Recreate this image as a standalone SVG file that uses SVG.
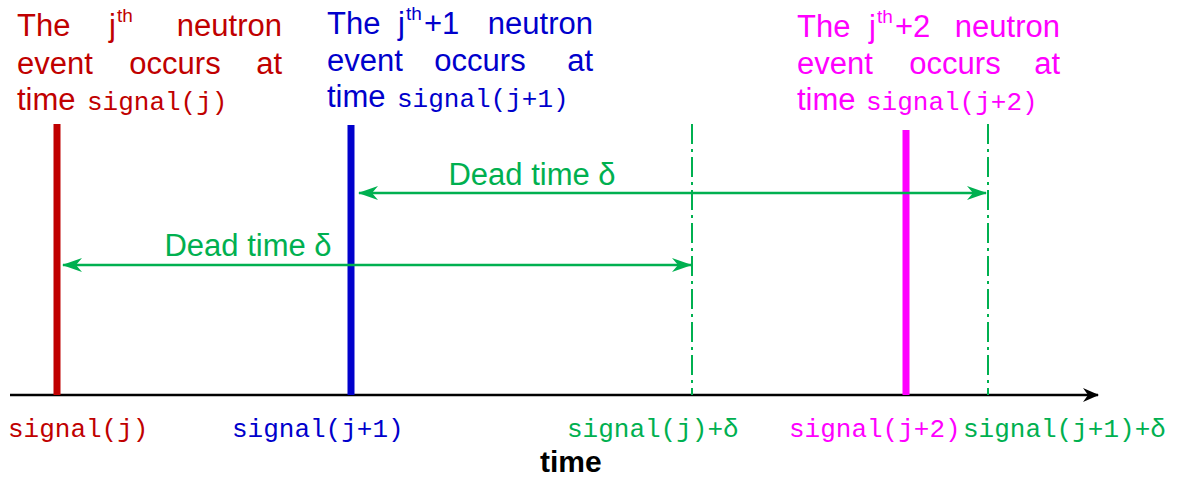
<svg xmlns="http://www.w3.org/2000/svg" width="1177" height="478" viewBox="0 0 1177 478">
<defs>
<style>
.t{font-family:"Liberation Sans",Arial,sans-serif;font-size:31px}
.sup{font-family:"Liberation Sans",Arial,sans-serif;font-size:19px}
.m{font-family:"Liberation Mono","Courier New",monospace;font-size:26px}
.red{fill:#C00000}.blue{fill:#0000CC}.mag{fill:#FF00FF}.grn{fill:#00B050}
.dd{stroke:#00B050;stroke-width:2;stroke-dasharray:20 5 3 5;fill:none}
.arr{stroke:#00B050;stroke-width:2.5;fill:none}
</style>
<marker id="ga" viewBox="0 0 20 14" refX="19" refY="7" markerWidth="20" markerHeight="14" markerUnits="userSpaceOnUse" orient="auto-start-reverse">
<path d="M0,0 L20,7 L0,14 L6,7 Z" fill="#00B050"/>
</marker>
<marker id="ka" viewBox="0 0 16 14" refX="15" refY="7" markerWidth="16" markerHeight="14" markerUnits="userSpaceOnUse" orient="auto">
<path d="M0,0 L16,7 L0,14 L5,7 Z" fill="#000"/>
</marker>
</defs>
<rect width="1177" height="478" fill="#fff"/>
<g id="axis">
<line x1="10" y1="395" x2="1098" y2="395" stroke="#000" stroke-width="2.5" marker-end="url(#ka)"/>
<text x="540" y="472" font-family="Liberation Sans,Arial,sans-serif" font-size="30" font-weight="bold" fill="#000">time</text>
</g>
<g id="event-j">
<line x1="57" y1="124" x2="57" y2="395" stroke="#C00000" stroke-width="7"/>
<text class="t red" x="17" y="36">The</text>
<text class="t red" x="109" y="36">j</text>
<text class="sup red" x="117" y="22">th</text>
<text class="t red" x="282" y="36" text-anchor="end">neutron</text>
<text class="t red" x="17" y="74">event</text>
<text class="t red" x="175" y="74" text-anchor="middle">occurs</text>
<text class="t red" x="282" y="74" text-anchor="end">at</text>
<text class="t red" x="17" y="110">time</text>
<text class="m red" x="87" y="110">signal(j)</text>
<text class="m red" x="8" y="437">signal(j)</text>
</g>
<g id="event-j1">
<line x1="351" y1="125" x2="351" y2="395" stroke="#0000CC" stroke-width="7"/>
<text class="t blue" x="327" y="34">The</text>
<text class="t blue" x="398" y="34">j</text>
<text class="sup blue" x="406" y="20">th</text>
<text class="t blue" x="424" y="34">+1</text>
<text class="t blue" x="593" y="34" text-anchor="end">neutron</text>
<text class="t blue" x="327" y="71">event</text>
<text class="t blue" x="480" y="71" text-anchor="middle">occurs</text>
<text class="t blue" x="593" y="71" text-anchor="end">at</text>
<text class="t blue" x="327" y="107">time</text>
<text class="m blue" x="397" y="107">signal(j+1)</text>
<text class="m blue" x="232" y="437">signal(j+1)</text>
</g>
<g id="event-j2">
<line x1="906" y1="130" x2="906" y2="395" stroke="#FF00FF" stroke-width="7"/>
<text class="t mag" x="797" y="37">The</text>
<text class="t mag" x="869" y="37">j</text>
<text class="sup mag" x="877" y="23">th</text>
<text class="t mag" x="895" y="37">+2</text>
<text class="t mag" x="1060" y="37" text-anchor="end">neutron</text>
<text class="t mag" x="797" y="74">event</text>
<text class="t mag" x="955" y="74" text-anchor="middle">occurs</text>
<text class="t mag" x="1060" y="74" text-anchor="end">at</text>
<text class="t mag" x="797" y="110">time</text>
<text class="m mag" x="866" y="110">signal(j+2)</text>
<text class="m mag" x="789" y="437">signal(j+2)</text>
</g>
<g id="deadline-j">
<line class="dd" x1="692" y1="124" x2="692" y2="395"/>
<text class="m grn" x="567" y="437">signal(j)+δ</text>
</g>
<g id="deadline-j1">
<line class="dd" x1="988" y1="124" x2="988" y2="395"/>
<text class="m grn" x="963" y="437">signal(j+1)+δ</text>
</g>
<g id="connectors">
<line class="arr" x1="359" y1="193" x2="986" y2="193" marker-start="url(#ga)" marker-end="url(#ga)"/>
<text class="t grn" x="532" y="185" text-anchor="middle">Dead time δ</text>
<line class="arr" x1="63" y1="265" x2="691" y2="265" marker-start="url(#ga)" marker-end="url(#ga)"/>
<text class="t grn" x="248" y="256" text-anchor="middle">Dead time δ</text>
</g>
</svg>
